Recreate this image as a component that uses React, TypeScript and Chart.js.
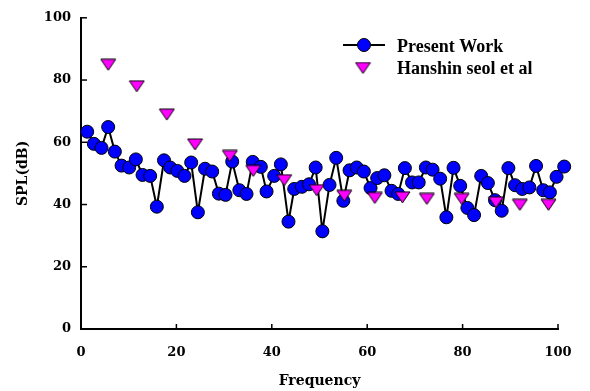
import React, { useEffect, useRef } from "react";
import { Chart, registerables } from "chart.js";

Chart.register(...registerables);

const presentX = [1.3, 2.7, 4.3, 5.7, 7.1, 8.5, 10.1, 11.5, 12.9, 14.5, 15.9, 17.4, 18.7, 20.2, 21.7, 23.1, 24.5, 26.0, 27.5, 28.9, 30.3, 31.7, 33.2, 34.7, 36.0, 37.7, 38.9, 40.5, 41.9, 43.5, 44.7, 46.3, 47.8, 49.2, 50.6, 52.1, 53.5, 55.0, 56.3, 57.8, 59.3, 60.7, 62.1, 63.6, 65.1, 66.5, 67.9, 69.4, 70.8, 72.3, 73.7, 75.3, 76.6, 78.1, 79.5, 81.0, 82.4, 83.9, 85.3, 86.8, 88.2, 89.6, 91.0, 92.5, 94.0, 95.4, 96.9, 98.3, 99.7, 101.3];
const presentY = [63.4, 59.5, 58.2, 64.9, 57.0, 52.5, 51.9, 54.5, 49.5, 49.2, 39.3, 54.2, 51.9, 50.8, 49.2, 53.5, 37.5, 51.5, 50.6, 43.5, 43.1, 53.8, 44.6, 43.4, 53.7, 52.1, 44.2, 49.2, 52.9, 34.5, 45.0, 45.7, 46.5, 51.9, 31.4, 46.3, 55.0, 41.2, 51.0, 51.9, 50.6, 45.3, 48.5, 49.4, 44.4, 43.4, 51.7, 47.1, 47.1, 51.9, 51.2, 48.3, 35.9, 51.8, 46.0, 38.9, 36.6, 49.2, 46.9, 41.4, 38.0, 51.7, 46.2, 45.0, 45.5, 52.4, 44.6, 43.9, 48.9, 52.2];

const hanshinX = [5.7, 11.7, 18.0, 23.9, 31.2, 36.1, 42.6, 49.4, 55.2, 61.6, 67.4, 72.5, 79.8, 87.0, 92.0, 98.0];
const hanshinY = [84.9, 78.0, 68.9, 59.3, 55.6, 50.8, 47.8, 44.6, 42.8, 42.1, 42.3, 41.8, 41.8, 40.7, 39.9, 39.9];

const seriesNames = ["Present Work", "Hanshin seol et al"];
const axisTicks = [0, 20, 40, 60, 80, 100];

const AXIS_FONT = "'DejaVu Serif', 'Liberation Serif', serif";
const LEGEND_FONT = "'Liberation Serif', 'Times New Roman', serif";

function makeTriangle(): HTMLCanvasElement {
  const c = document.createElement("canvas");
  c.width = 17;
  c.height = 13;
  const ctx = c.getContext("2d")!;
  ctx.beginPath();
  ctx.moveTo(1, 1);
  ctx.lineTo(16, 1);
  ctx.lineTo(8.5, 12);
  ctx.closePath();
  ctx.fillStyle = "#FF00FF";
  ctx.fill();
  ctx.strokeStyle = "#000000";
  ctx.lineWidth = 1;
  ctx.stroke();
  return c;
}

export default function App() {
  const ref = useRef<HTMLCanvasElement | null>(null);

  useEffect(() => {
    if (!ref.current) return;
    const tri = makeTriangle();

    const tickPlugin = {
      id: "innerTicks",
      afterDraw(chart: any) {
        const ctx = chart.ctx;
        const xs = chart.scales.x;
        const ys = chart.scales.y;
        const area = chart.chartArea;
        ctx.save();
        ctx.strokeStyle = "#000";
        ctx.lineWidth = 1.5;
        axisTicks.forEach((v) => {
          const py = ys.getPixelForValue(v);
          ctx.beginPath();
          ctx.moveTo(area.left, py);
          ctx.lineTo(area.left + 6, py);
          ctx.stroke();
          const px = xs.getPixelForValue(v);
          ctx.beginPath();
          ctx.moveTo(px, area.bottom);
          ctx.lineTo(px, area.bottom - 5);
          ctx.stroke();
        });
        // legend
        ctx.lineWidth = 2;
        ctx.beginPath();
        ctx.moveTo(343, 45);
        ctx.lineTo(385, 45);
        ctx.stroke();
        ctx.beginPath();
        ctx.arc(364, 45, 6.5, 0, Math.PI * 2);
        ctx.fillStyle = "#0000FF";
        ctx.fill();
        ctx.lineWidth = 1;
        ctx.stroke();
        ctx.drawImage(tri, 363 - 8.5, 68 - 6.5);
        ctx.fillStyle = "#000";
        ctx.font = "bold 18px " + LEGEND_FONT;
        ctx.textAlign = "left";
        ctx.textBaseline = "alphabetic";
        ctx.fillText(seriesNames[0], 397, 52);
        ctx.fillText(seriesNames[1], 397, 74);
        ctx.restore();
      },
    };

    const chart = new Chart(ref.current, {
      type: "line",
      data: {
        datasets: [
          {
            label: seriesNames[1],
            data: hanshinX.map((x, i) => ({ x, y: hanshinY[i] })),
            showLine: false,
            pointStyle: tri as any,
            pointRadius: 8,
            backgroundColor: "#FF00FF",
            borderColor: "#000",
            clip: false as any,
            order: 0,
          },
          {
            label: seriesNames[0],
            data: presentX.map((x, i) => ({ x, y: presentY[i] })),
            showLine: true,
            borderColor: "#000",
            borderWidth: 2,
            pointStyle: "circle",
            pointRadius: 6.5,
            pointBackgroundColor: "#0000FF",
            pointBorderColor: "#000",
            pointBorderWidth: 1,
            tension: 0,
            clip: false as any,
            order: 1,
          },
        ],
      },
      options: {
        animation: false,
        responsive: false,
        maintainAspectRatio: false,
        events: [],
        layout: { padding: { top: 16, right: 32, left: 0, bottom: 0 } },
        plugins: {
          legend: { display: false },
          tooltip: { enabled: false },
          title: { display: false },
        },
        scales: {
          x: {
            type: "linear",
            min: 0,
            max: 100,
            grid: { display: false, drawTicks: false },
            border: { display: true, color: "#000", width: 2 },
            ticks: {
              stepSize: 20,
              color: "#000",
              padding: 16,
              maxRotation: 0,
              font: { family: AXIS_FONT, size: 13, weight: "bold" },
            },
            title: {
              display: true,
              text: "Frequency",
              color: "#000",
              padding: { top: 0, bottom: 1 },
              font: { family: AXIS_FONT, size: 14, weight: "bold" },
            },
            afterFit(scale: any) {
              scale.height = 62;
            },
          },
          y: {
            type: "linear",
            min: 0,
            max: 100,
            grid: { display: false, drawTicks: false },
            border: { display: true, color: "#000", width: 2 },
            ticks: {
              stepSize: 20,
              color: "#000",
              padding: 10,
              font: { family: AXIS_FONT, size: 13, weight: "bold" },
            },
            title: {
              display: true,
              text: "SPL(dB)",
              color: "#000",
              padding: { top: 15, bottom: 0 },
              font: { family: AXIS_FONT, size: 14, weight: "bold" },
            },
            afterFit(scale: any) {
              scale.width = 81;
            },
          },
        },
      },
      plugins: [tickPlugin],
    });
    return () => chart.destroy();
  }, []);

  return (
    <div style={{ position: "fixed", left: 0, top: 0, width: 590, height: 391, background: "#fff" }}>
      <canvas ref={ref} width={590} height={391} style={{ width: 590, height: 391 }} />
    </div>
  );
}
